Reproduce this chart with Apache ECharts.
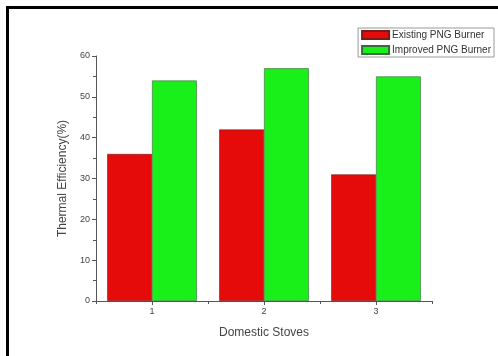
<!DOCTYPE html>
<html><head><meta charset="utf-8">
<script src="https://cdn.jsdelivr.net/npm/echarts@6/dist/echarts.min.js"></script>
<style>html,body{margin:0;padding:0;background:#fff}#c{width:498px;height:356px}</style>
</head><body><div id="c"></div>
<script>
const categories = ['1', '2', '3'];
const existing = [36, 42, 31];
const improved = [54, 57, 55];
const seriesNames = ['Existing PNG Burner', 'Improved PNG Burner'];

const chart = echarts.init(document.getElementById('c'));
const font = 'Liberation Sans, Arial, sans-serif';
chart.setOption({
  animation: false,
  backgroundColor: '#fff',
  grid: {left: 96, right: 66, top: 56, bottom: 55},
  legend: {
    right: 4, top: 28, orient: 'vertical', icon: 'rect',
    itemWidth: 27, itemHeight: 8, itemGap: 5,
    padding: [2, 3, 2, 3],
    borderColor: '#999', borderWidth: 1,
    textStyle: {fontFamily: font, fontSize: 10, color: '#333', padding: [0, 0, 0, -2]},
    data: seriesNames
  },
  xAxis: [{
    type: 'category', data: categories,
    name: 'Domestic Stoves', nameLocation: 'middle', nameGap: 26,
    nameTextStyle: {fontFamily: font, fontSize: 12, color: '#444'},
    axisLine: {lineStyle: {color: '#555', width: 1}},
    axisTick: {show: true, alignWithLabel: true, length: 4, lineStyle: {color: '#555'}},
    axisLabel: {fontFamily: font, fontSize: 9, color: '#444', margin: 6}
  }, {
    type: 'category', data: categories, position: 'bottom',
    axisLine: {show: false},
    axisTick: {show: true, alignWithLabel: false, length: 3, lineStyle: {color: '#555'}},
    axisLabel: {show: false}
  }],
  yAxis: {
    type: 'value', min: 0, max: 60, interval: 10,
    name: 'Thermal Efficiency(%)', nameLocation: 'middle', nameGap: 24,
    nameTextStyle: {fontFamily: font, fontSize: 12, color: '#444'},
    axisLine: {show: true, lineStyle: {color: '#555', width: 1}},
    axisTick: {show: true, length: 4, lineStyle: {color: '#555'}},
    minorTick: {show: true, splitNumber: 2, length: 3, lineStyle: {color: '#555'}},
    splitLine: {show: false},
    axisLabel: {fontFamily: font, fontSize: 9, color: '#444', margin: 6}
  },
  series: [
    {name: seriesNames[0], type: 'bar', data: existing, barGap: '0%', barCategoryGap: '20%',
     itemStyle: {color: '#e50b0b', borderColor: '#7a1a1a', borderWidth: 0.6}},
    {name: seriesNames[1], type: 'bar', data: improved,
     itemStyle: {color: '#19ef19', borderColor: '#3a6a3a', borderWidth: 0.6}}
  ],
  graphic: [
    {type: 'rect', shape: {x: 6, y: 6, width: 3, height: 350}, style: {fill: '#000'}},
    {type: 'rect', shape: {x: 6, y: 6, width: 492, height: 3}, style: {fill: '#000'}}
  ]
});
</script></body></html>
